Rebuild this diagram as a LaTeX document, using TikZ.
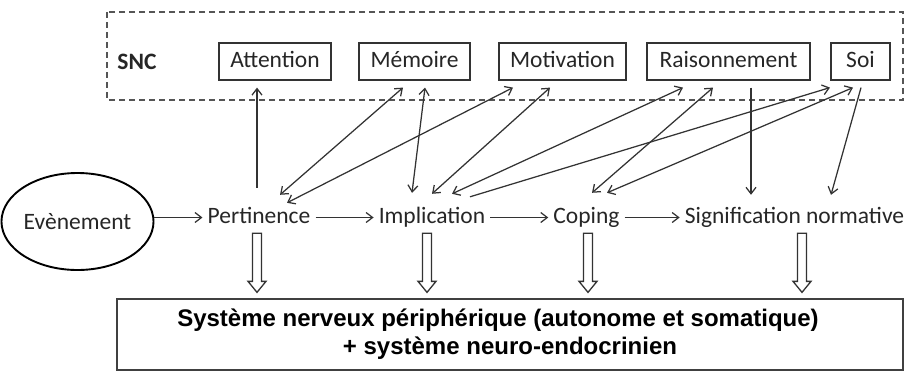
\documentclass[tikz,border=0pt]{standalone}
\usepackage{fontspec}
\setmainfont{Carlito}
\newfontfamily\sysfont{Liberation Sans}
\usepackage{xcolor}
\definecolor{lineGrey}{HTML}{333333}
\definecolor{textGrey}{HTML}{262626}
\definecolor{dashGrey}{HTML}{555555}
\usetikzlibrary{calc, positioning, arrows.meta, shapes.geometric}
% hollow block arrow pointing down, from #1 to the level of #2
\newcommand{\bigdown}[2]{%
  \draw[blockarr] let \p1=(#1), \p2=(#2) in
    (\x1-4.5pt,\y1) -- (\x1+4.5pt,\y1) -- (\x1+4.5pt,\y2+17pt) -- (\x1+9pt,\y2+17pt)
    -- (\x1,\y2+6pt) -- (\x1-9pt,\y2+17pt) -- (\x1-4.5pt,\y2+17pt) -- cycle;}

\begin{document}
\begin{tikzpicture}[x=1pt, y=1pt,
    font=\fontsize{23.5}{27}\selectfont, text=textGrey,
    >={Straight Barb[length=6.5pt, width=10pt]},
    link/.style={draw=lineGrey, line width=1.25pt},
    cogbox/.style={draw=lineGrey, line width=1.2pt, minimum height=37pt,
      text height=15pt, text depth=4pt, inner xsep=0pt},
    stage/.style={anchor=base, text height=15pt, text depth=4pt, inner ysep=6pt, inner xsep=5pt},
    blockarr/.style={draw=lineGrey, line width=1.3pt, fill=white}]
  \useasboundingbox (0,0) rectangle (904,-372);

  % central nervous system
  \draw[dashGrey, dash pattern=on 6pt off 4pt, line width=1.2pt] (107,-12) rectangle (903,-100);
  \node[font=\bfseries\fontsize{23.5}{27}\selectfont] (snc) at (137,-61.5) {SNC};
  \node[cogbox, minimum width=112pt] (att) at (275,-61.5) {Attention};
  \node[cogbox, minimum width=111pt] (mem) at (414.5,-61.5) {Mémoire};
  \node[cogbox, minimum width=127pt] (mot) at (562.5,-61.5) {Motivation};
  \node[cogbox, minimum width=163pt] (rai) at (728.5,-61.5) {Raisonnement};
  \node[cogbox, minimum width=59pt] (soi) at (860.5,-61.5) {Soi};

  % appraisal sequence
  \node[ellipse, draw=black, line width=1.9pt, minimum width=139pt, minimum height=97pt,
        inner sep=0pt] (evt) at (77.5,-221.5) {Evènement};
  \node[stage] (pert) at (259,-223) {Pertinence};
  \node[stage] (impl) at (432,-223) {Implication};
  \node[stage] (cop) at (586.5,-223) {Coping};
  \node[stage] (sig) at (794.5,-223) {Signification normative};

  \draw[link,->] (evt.east |- pert.west) -- (pert.west);
  \draw[link,->] (pert) -- (impl);
  \draw[link,->] (impl) -- (cop);
  \draw[link,->] (cop.east) -- (sig.west);

  % links with the SNC
  \draw[link,->] ([xshift=-2pt,yshift=14pt]pert.north) -- ([xshift=-18pt,yshift=-7pt]att.south);
  \draw[link,<->] ([xshift=21pt,yshift=7pt]pert.north) -- ([xshift=-11.5pt,yshift=-7pt]mem.south);
  \draw[link,<->] ([xshift=28pt,yshift=-1pt]pert.north) -- ([xshift=-49.5pt,yshift=-7pt]mot.south);
  \draw[link,<->] ([xshift=-20pt,yshift=9pt]impl.north) -- ([xshift=10.5pt,yshift=-7pt]mem.south);
  \draw[link,<->] ([yshift=8pt]impl.north) -- ([xshift=-12.5pt,yshift=-7pt]mot.south);
  \draw[link,<->] ([xshift=20pt,yshift=8pt]impl.north) -- ([xshift=-45.5pt,yshift=-7pt]rai.south);
  \draw[link,->] ([xshift=38pt,yshift=5pt]impl.north) -- ([xshift=-30.5pt,yshift=-7pt]soi.south);
  \draw[link,<->] ([xshift=5.5pt,yshift=9pt]cop.north) -- ([xshift=-15.5pt,yshift=-7pt]rai.south);
  \draw[link,<->] ([xshift=20.5pt,yshift=9pt]cop.north) -- ([xshift=-7.5pt,yshift=-7pt]soi.south);
  \draw[link,->] ([xshift=22.5pt,yshift=-7pt]rai.south) -- ([xshift=-43.5pt,yshift=7pt]sig.north);
  \draw[link,->] ([xshift=0.5pt,yshift=-7pt]soi.south) -- ([xshift=36.5pt,yshift=7pt]sig.north);

  % peripheral systems
  \node[draw=black!75, line width=1.3pt, minimum width=786pt, minimum height=71pt, align=center,
        text=black, font=\sysfont\bfseries\fontsize{24}{28}\selectfont] (sys) at (510,-334.5)
        {\hspace*{-24pt}Système nerveux périphérique (autonome et somatique)\\+ système neuro-endocrinien};

  \bigdown{[xshift=-2pt]pert.south}{sys.north}
  \bigdown{[xshift=-5pt]impl.south}{sys.north}
  \bigdown{[xshift=1.5pt]cop.south}{sys.north}
  \bigdown{[xshift=7.5pt]sig.south}{sys.north}
\end{tikzpicture}
\end{document}
